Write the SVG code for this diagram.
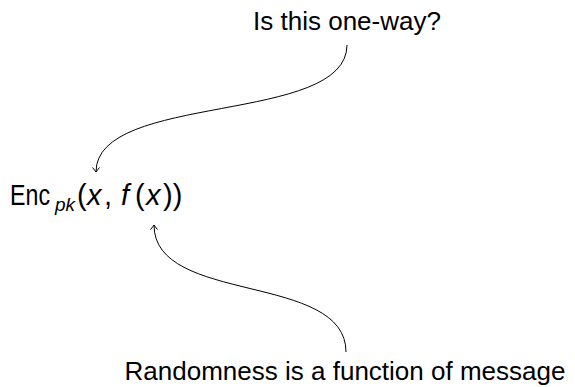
<svg xmlns="http://www.w3.org/2000/svg" width="575" height="387" viewBox="0 0 575 387">
<style>
text{font-family:"Liberation Sans","DejaVu Sans",sans-serif;font-size:26px;fill:#000}
.big{font-size:29px}
.it{font-style:italic}
.sub{font-size:19px;font-style:italic}
.conn{fill:none;stroke:#000;stroke-width:1}
</style>
<defs>
<marker id="arr" markerWidth="10" markerHeight="10" refX="0" refY="0" viewBox="-6 -5 8 10" orient="auto" markerUnits="userSpaceOnUse">
<path d="M-4.5,-3.5 Q-1.5,-1 0,0 Q-1.5,1 -4.5,3.5" fill="none" stroke="#000" stroke-width="1"/>
</marker>
</defs>
<g id="q">
<text x="347" y="30" text-anchor="middle">Is this one-way?</text>
</g>
<g id="enc">
<text class="big" y="205"><tspan x="10" textLength="40" lengthAdjust="spacingAndGlyphs">Enc</tspan><tspan x="55" dy="6" class="sub">pk</tspan><tspan x="77" dy="-6">(</tspan><tspan x="87" class="it">x</tspan><tspan x="104">,</tspan><tspan x="121" class="it">f</tspan><tspan x="135">(</tspan><tspan x="146" class="it">x</tspan><tspan x="163">))</tspan></text>
</g>
<g id="rand">
<text x="345" y="380" text-anchor="middle">Randomness is a function of message</text>
</g>
<g id="connectors">
<path class="conn" d="M347,45 C347,125 96,92 96,172" marker-end="url(#arr)"/>
<path class="conn" d="M346,352 C346,272 154,305 154,225" marker-end="url(#arr)"/>
</g>
</svg>
